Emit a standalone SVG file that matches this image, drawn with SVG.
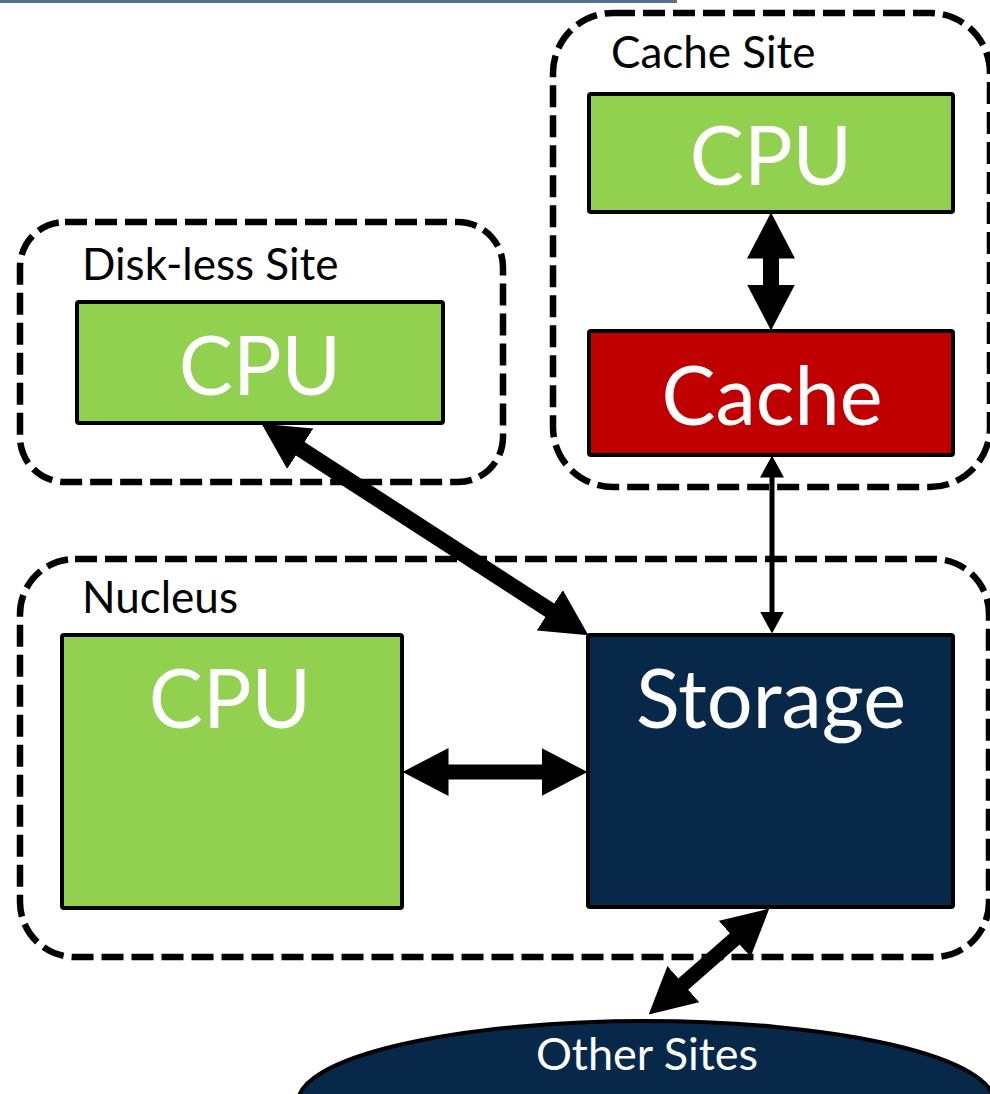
<svg xmlns="http://www.w3.org/2000/svg" width="990" height="1094" viewBox="0 0 990 1094">
  <defs>
    <style>
      .site { fill: none; stroke: #000; stroke-width: 6.5; stroke-dasharray: 22 8; }
      .box { stroke: #000; stroke-width: 4; }
      .green { fill: #92d050; }
      .red { fill: #c00000; }
      .navy { fill: #08284a; }
      .big { font-family: Lato, "Open Sans", sans-serif; font-size: 81px; fill: #fff; text-anchor: middle; }
      .lbl { font-family: Lato, "Open Sans", sans-serif; font-size: 44px; fill: #000; }
      .conn { stroke: #000; fill: none; }
    </style>
    <marker id="bigHead" markerUnits="userSpaceOnUse" viewBox="0 0 46 48" markerWidth="46" markerHeight="48" refX="0.5" refY="24" orient="auto-start-reverse">
      <path d="M0,0 L46,24 L0,48 z" fill="#000"/>
    </marker>
    <marker id="smallHead" markerUnits="userSpaceOnUse" viewBox="0 0 22 24" markerWidth="22" markerHeight="24" refX="0.5" refY="12" orient="auto-start-reverse">
      <path d="M0,0 L22,12 L0,24 z" fill="#000"/>
    </marker>
  </defs>

  <rect width="990" height="1094" fill="#fff"/>
  <line x1="0" y1="1.5" x2="677" y2="1.5" stroke="#55728f" stroke-width="3"/>

  <g id="cache-site">
    <rect class="site" x="553" y="13" width="437" height="474" rx="60"/>
    <text class="lbl" x="611" y="68">Cache Site</text>
  </g>
  <g id="diskless-site">
    <rect class="site" x="20" y="222" width="483" height="260" rx="45"/>
    <text class="lbl" x="82" y="280">Disk-less Site</text>
  </g>
  <g id="nucleus">
    <rect class="site" x="20" y="559" width="969" height="398" rx="55"/>
    <text class="lbl" x="82" y="613">Nucleus</text>
  </g>

  <g id="cache-cpu">
    <rect class="box green" x="589" y="94" width="364" height="118" rx="2"/>
    <text class="big" x="771" y="185">CPU</text>
  </g>
  <g id="cache">
    <rect class="box red" x="589" y="331" width="364" height="124" rx="2"/>
    <text class="big" x="772" y="425">Cache</text>
  </g>
  <g id="diskless-cpu">
    <rect class="box green" x="77" y="302" width="366" height="121" rx="2"/>
    <text class="big" x="260" y="395">CPU</text>
  </g>
  <g id="nucleus-cpu">
    <rect class="box green" x="62" y="635" width="340" height="273" rx="2"/>
    <text class="big" x="230" y="728">CPU</text>
  </g>
  <g id="storage">
    <rect class="box navy" x="588" y="635" width="365" height="272" rx="2"/>
    <text class="big" x="771" y="728">Storage</text>
  </g>
  <g id="other-sites">
    <ellipse class="navy" cx="646" cy="1102" rx="348" ry="81" stroke="#000" stroke-width="4"/>
    <text x="647" y="1070" font-family="Lato, 'Open Sans', sans-serif" font-size="45" fill="#fff" text-anchor="middle">Other Sites</text>
  </g>

  <g id="connectors">
    <line class="conn" x1="771" y1="258" x2="771" y2="285" stroke-width="16" marker-start="url(#bigHead)" marker-end="url(#bigHead)"/>
    <line class="conn" x1="772" y1="477" x2="772" y2="612" stroke-width="5" marker-start="url(#smallHead)" marker-end="url(#smallHead)"/>
    <line class="conn" x1="299.8" y1="448.5" x2="550.2" y2="610.5" stroke-width="16" marker-start="url(#bigHead)" marker-end="url(#bigHead)"/>
    <line class="conn" x1="448" y1="772" x2="542" y2="772" stroke-width="15" marker-start="url(#bigHead)" marker-end="url(#bigHead)"/>
    <line class="conn" x1="735.1" y1="938.6" x2="682.9" y2="984.4" stroke-width="15" marker-start="url(#bigHead)" marker-end="url(#bigHead)"/>
  </g>
</svg>
